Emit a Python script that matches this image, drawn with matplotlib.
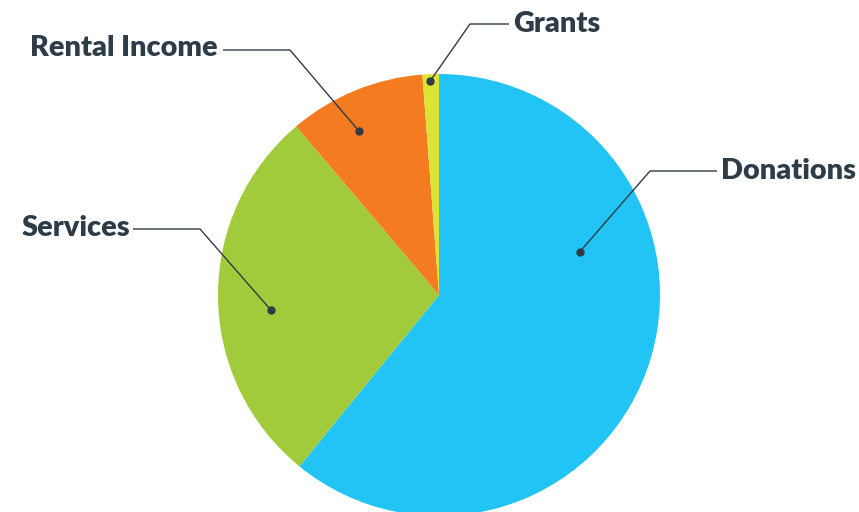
import numpy as np
import matplotlib
matplotlib.use("Agg")
import matplotlib.pyplot as plt

# ---- data ----
categories = ["Donations", "Services", "Rental Income", "Grants"]
values = [61, 28, 10, 1.2]
colors = ["#22c4f5", "#a1cb3b", "#f57b21", "#dde333"]

# ---- layout (pixel space, y measured from top) ----
W, H = 859, 512
cx, cy, R = 439, 295, 221
# dot position: angle clockwise from 12 o'clock (deg), distance from centre (px)
dot_polar = {"Donations": (73, 147), "Services": (265, 169),
             "Rental Income": (334, 182), "Grants": (357.6, 214)}
elbows = {"Donations": (650, 171), "Services": (200, 229),
          "Rental Income": (290, 50), "Grants": (470, 24)}
line_ends = {"Donations": 717, "Services": 133, "Rental Income": 223, "Grants": 509}
label_pos = {"Donations": (721, 179, "left"), "Services": (130, 236, "right"),
             "Rental Income": (218, 56, "right"), "Grants": (513, 32, "left")}

text_color = "#2e3c48"

fig = plt.figure(figsize=(W / 100, H / 100), dpi=100)
ax = fig.add_axes([0, 0, 1, 1])

ax.pie(values, colors=colors, startangle=90, counterclock=False,
       center=(cx, H - cy), radius=R, wedgeprops=dict(linewidth=0))

for cat in categories:
    ang, d = dot_polar[cat]
    a = np.deg2rad(ang)
    dx, dy = cx + d * np.sin(a), cy - d * np.cos(a)
    ex, ey = elbows[cat]
    lx = line_ends[cat]
    ax.plot([dx, ex, lx], [H - dy, H - ey, H - ey], color=text_color, lw=1.0,
            solid_capstyle="butt", zorder=3)
    ax.plot([dx], [H - dy], "o", color=text_color, markersize=5, zorder=4)
    tx, ty, ha = label_pos[cat]
    ax.text(tx, H - ty, cat, ha=ha, va="baseline", fontsize=20.8,
            fontweight="heavy", family="Lato", color=text_color)

ax.set_xlim(0, W)
ax.set_ylim(0, H)
ax.set_aspect("auto")
ax.axis("off")
fig.savefig("out.png", dpi=100)
